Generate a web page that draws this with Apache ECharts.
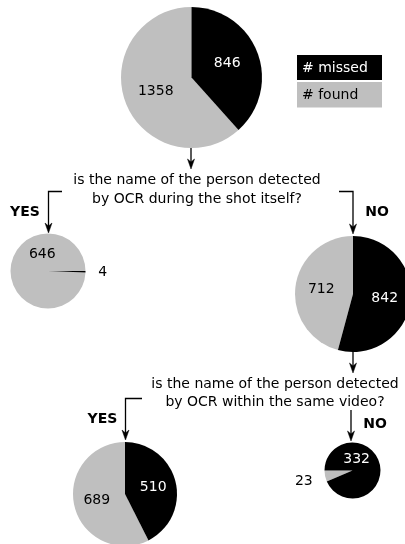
<!DOCTYPE html>
<html>
<head>
<meta charset="utf-8">
<script src="https://cdn.jsdelivr.net/npm/echarts@6/dist/echarts.min.js"></script>
<style>
html,body{margin:0;padding:0;background:#fff;}
#chart{width:405px;height:544px;}
</style>
</head>
<body>
<div id="chart"></div>
<script>
const categories = ['# found', '# missed'];
const rootValues = [1358, 846];
const shotYesValues = [646, 4];
const shotNoValues = [712, 842];
const videoYesValues = [689, 510];
const videoNoValues = [23, 332];
const question1 = 'is the name of the person detected\nby OCR during the shot itself?';
const question2 = 'is the name of the person detected\nby OCR within the same video?';

const FONT = 'DejaVu Sans';
const COLORS = ['#bfbfbf', '#000000'];
const LABEL_COLORS = ['#000000', '#ffffff'];

function makePie(values, center, radius, startAngle, labelOverrides) {
  return {
    type: 'pie',
    center: center,
    radius: radius,
    startAngle: startAngle,
    clockwise: false,
    silent: true,
    animation: false,
    avoidLabelOverlap: false,
    labelLine: { show: false },
    emphasis: { disabled: true },
    label: {
      show: true,
      position: 'inside',
      formatter: '{c}',
      fontFamily: FONT,
      fontSize: 14
    },
    data: values.map((v, i) => {
      const o = (labelOverrides && labelOverrides[i]) || {};
      return {
        name: categories[i],
        value: v,
        itemStyle: { color: COLORS[i], borderWidth: 0 },
        label: Object.assign({ color: LABEL_COLORS[i] }, o)
      };
    })
  };
}

function arrow(points) {
  const tip = points[points.length - 1];
  const x = tip[0], y = tip[1];
  return [
    { type: 'polyline', shape: { points: points.slice(0, -1).concat([[x, y - 4]]) },
      style: { stroke: '#000', lineWidth: 1.3, fill: null } },
    { type: 'polygon', shape: { points: [[x, y], [x - 3.5, y - 10], [x, y - 7], [x + 3.5, y - 10]] },
      style: { fill: '#000', stroke: '#000', lineWidth: 0.5 } }
  ];
}

function txt(x, y, text, opts) {
  return {
    type: 'text', x: x, y: y,
    style: Object.assign({
      text: text, fontFamily: FONT, fontSize: 14, fill: '#000',
      align: 'center', verticalAlign: 'middle', lineHeight: 19
    }, opts || {})
  };
}

const graphics = []
  .concat(arrow([[191, 148], [191, 169]]))
  .concat(arrow([[62, 191.5], [48.5, 191.5], [48.5, 233]]))
  .concat(arrow([[339, 191.5], [353, 191.5], [353, 234]]))
  .concat(arrow([[353, 352], [353, 373]]))
  .concat(arrow([[142, 398.5], [125.5, 398.5], [125.5, 440]]))
  .concat(arrow([[351, 410], [351, 441]]))
  .concat([
    txt(197, 190, question1),
    txt(275, 393.5, question2, { lineHeight: 17.5 }),
    txt(25, 212, 'YES', { fontWeight: 'bold' }),
    txt(377, 212, 'NO', { fontWeight: 'bold' }),
    txt(102.5, 419, 'YES', { fontWeight: 'bold' }),
    txt(375, 424, 'NO', { fontWeight: 'bold' }),
    { type: 'rect', shape: { x: 297, y: 55, width: 85, height: 25 }, style: { fill: '#000' } },
    { type: 'rect', shape: { x: 297, y: 82, width: 85, height: 25.5 }, style: { fill: '#bfbfbf' } },
    txt(302, 68, categories[1], { align: 'left', fill: '#fff' }),
    txt(302, 95, categories[0], { align: 'left', fill: '#000' })
  ]);

const chart = echarts.init(document.getElementById('chart'), null, { renderer: 'canvas' });
chart.setOption({
  animation: false,
  backgroundColor: '#fff',
  series: [
    makePie(rootValues, [191.5, 77.5], 70.5, 90),
    makePie(shotYesValues, [48, 271], 37.5, 0, [
      { offset: [16, -16] },
      { offset: [33, 0.5], color: '#000' }
    ]),
    makePie(shotNoValues, [353, 294], 58, 90),
    makePie(videoYesValues, [125, 494], 52, 90),
    makePie(videoNoValues, [352.5, 470.5], 28, 180, [
      { offset: [-32, 7], color: '#000' },
      { offset: [-12.5, -7.5] }
    ])
  ],
  graphic: { elements: graphics }
});
</script>
</body>
</html>
